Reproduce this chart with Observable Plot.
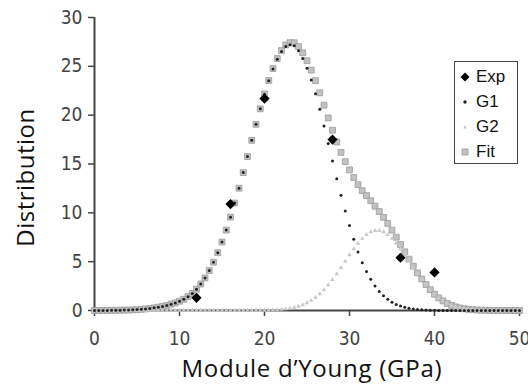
<!DOCTYPE html>
<html><head><meta charset="utf-8">
<script src="https://cdn.jsdelivr.net/npm/d3@7"></script>
<script src="https://cdn.jsdelivr.net/npm/@observablehq/plot@0.6"></script>
<style>
html,body{margin:0;padding:0;background:#fff;}
#wrap{position:relative;width:528px;height:385px;overflow:hidden;background:#fff;}
#wrap svg.plot{position:absolute;left:0;top:0;}
.xt{position:absolute;font-family:"Open Sans";font-size:24px;line-height:27px;color:#111;white-space:nowrap;}
#legend{position:absolute;left:454px;top:61px;width:62px;height:101px;border:1.5px solid #444;background:#fff;font-family:"Liberation Sans";font-size:17px;color:#111;}
#legend .row{position:absolute;left:0;height:20px;line-height:20px;}
#legend svg{position:absolute;left:4px;top:4px;}
#legend span{position:absolute;left:21px;top:0;}
</style>
</head><body><div id="wrap"></div>
<script>
// x grid of sampled curves (GPa)
const xGrid = [
 0,0.5,1,1.5,2,2.5,3,3.5,4,4.5,
 5,5.5,6,6.5,7,7.5,8,8.5,9,9.5,
 10,10.5,11,11.5,12,12.5,13,13.5,14,14.5,
 15,15.5,16,16.5,17,17.5,18,18.5,19,19.5,
 20,20.5,21,21.5,22,22.5,23,23.5,24,24.5,
 25,25.5,26,26.5,27,27.5,28,28.5,29,29.5,
 30,30.5,31,31.5,32,32.5,33,33.5,34,34.5,
 35,35.5,36,36.5,37,37.5,38,38.5,39,39.5,
 40,40.5,41,41.5,42,42.5,43,43.5,44,44.5,
 45,45.5,46,46.5,47,47.5,48,48.5,49,49.5,
 50];
const g1 = [
 0,0,0.01,0.01,0.02,0.02,0.03,0.04,0.05,0.07,
 0.09,0.12,0.16,0.21,0.27,0.34,0.42,0.52,0.65,0.78,
 0.95,1.15,1.42,1.75,2.18,2.71,3.34,4.09,4.94,5.92,
 7.01,8.23,9.56,11.0,12.52,14.12,15.76,17.42,19.06,20.65,
 22.15,23.52,24.72,25.73,26.51,27.04,27.2,27.1,26.6,25.8,
 24.8,23.6,22.2,20.6,18.9,17.1,15.3,13.5,11.8,10.2,
 8.7,7.3,6.0,4.9,4.0,3.2,2.5,1.95,1.5,1.15,
 0.85,0.62,0.45,0.32,0.22,0.15,0.1,0.07,0.05,0.03,
 0.02,0.01,0.01,0,0,0,0,0,0,0,
 0,0,0,0,0,0,0,0,0,0,
 0];
const g2 = [
 0,0,0,0,0,0,0,0,0,0,
 0,0,0,0,0,0,0,0,0,0,
 0,0,0,0,0,0,0,0,0,0,
 0,0,0,0,0,0,0,0,0,0,
 0.02,0.03,0.05,0.07,0.10,0.15,0.22,0.31,0.42,0.58,
 0.78,1.02,1.33,1.69,2.12,2.61,3.16,3.75,4.39,5.04,
 5.69,6.31,6.88,7.37,7.77,8.04,8.18,8.18,8.04,7.77,
 7.37,6.88,6.31,5.69,5.04,4.39,3.75,3.16,2.61,2.10,
 1.65,1.28,0.97,0.72,0.52,0.37,0.26,0.18,0.12,0.08,
 0.05,0.03,0.02,0.01,0.01,0,0,0,0,0,
 0];
const fit = [
 0,0,0.01,0.01,0.02,0.02,0.03,0.04,0.05,0.07,
 0.09,0.12,0.16,0.21,0.27,0.34,0.42,0.52,0.65,0.78,
 0.95,1.15,1.42,1.75,2.18,2.71,3.34,4.09,4.94,5.92,
 7.01,8.23,9.56,11.0,12.52,14.12,15.76,17.42,19.06,20.65,
 22.17,23.55,24.77,25.80,26.61,27.19,27.42,27.41,27.02,26.38,
 25.58,24.62,23.53,22.29,21.02,19.71,18.46,17.25,16.19,15.24,
 14.39,13.61,12.88,12.27,11.77,11.24,10.68,10.13,9.54,8.92,
 8.22,7.50,6.76,6.01,5.26,4.54,3.85,3.23,2.66,2.13,
 1.67,1.29,0.98,0.72,0.52,0.37,0.26,0.18,0.12,0.08,
 0.05,0.03,0.02,0.01,0.01,0,0,0,0,0,
 0];
const expX = [12, 16, 20, 28, 36, 40];
const expY = [1.3, 10.9, 21.7, 17.5, 5.4, 3.9];
const xTicks = [0, 10, 20, 30, 40, 50];
const yTicks = [0, 5, 10, 15, 20, 25, 30];
const seriesNames = ["Exp", "G1", "G2", "Fit"];
const xTitle = "Module d\u2019Young (GPa)";
const yTitle = "Distribution";

const rowsG1 = xGrid.map((x, i) => ({x, y: g1[i]}));
const rowsG2 = xGrid.map((x, i) => ({x, y: g2[i]}));
const rowsFit = xGrid.map((x, i) => ({x, y: fit[i]}));
const rowsExp = expX.map((x, i) => ({x, y: expY[i]}));

const chart = Plot.plot({
  width: 528, height: 385,
  marginLeft: 94, marginRight: 9, marginTop: 17, marginBottom: 75,
  x: {domain: [0, 50]},
  y: {domain: [0, 30]},
  style: {fontFamily: "DejaVu Sans Condensed", fontSize: "19px", color: "#444", background: "transparent", overflow: "visible"},
  marks: [
    Plot.axisX({ticks: xTicks, tickSize: 6, tickPadding: 15, label: null, stroke: "#444", strokeWidth: 1.5, fill: "#444"}),
    Plot.axisY({ticks: yTicks, tickSize: 6, tickPadding: 6, label: null, stroke: "#444", strokeWidth: 1.5, fill: "#444"}),
    Plot.ruleY([0], {stroke: "#444", strokeWidth: 2}),
    Plot.ruleX([0], {stroke: "#444", strokeWidth: 2}),
    Plot.dot(rowsFit, {x: "x", y: "y", symbol: "square", r: 3.3, fill: "#c2c2c2", stroke: "#9a9a9a", strokeWidth: 0.8}),
    Plot.dot(rowsG2, {x: "x", y: "y", symbol: "triangle", r: 1.7, fill: "#c8c8c8", stroke: "none"}),
    Plot.dot(rowsG1, {x: "x", y: "y", r: 1.5, fill: "#222", stroke: "none"}),
    Plot.dot(rowsExp, {x: "x", y: "y", symbol: "diamond2", r: 4.6, fill: "#000", stroke: "none"})
  ]
});
chart.classList.add("plot");
const wrap = document.getElementById("wrap");
wrap.appendChild(chart);

function fitWidth(el, target) {
  const n = el.textContent.length;
  const w0 = el.offsetWidth;
  el.style.letterSpacing = ((target - w0) / n) + "px";
}

// axis titles
const xt = document.createElement("div");
xt.className = "xt";
xt.textContent = xTitle;
wrap.appendChild(xt);
fitWidth(xt, 261);
xt.style.left = (312 - xt.offsetWidth / 2) + "px";
xt.style.top = "354px";

const yt = document.createElement("div");
yt.className = "xt";
yt.textContent = yTitle;
wrap.appendChild(yt);
fitWidth(yt, 139);
const w = yt.offsetWidth, h = yt.offsetHeight;
yt.style.left = (24 - w / 2) + "px";
yt.style.top = (177 - h / 2) + "px";
yt.style.transform = "rotate(-90deg)";

// legend
const lg = document.createElement("div");
lg.id = "legend";
const sym = {
  Exp: '<svg width="12" height="12"><path d="M6,1.5L10.5,6L6,10.5L1.5,6Z" fill="#000"/></svg>',
  G1: '<svg width="12" height="12"><circle cx="6" cy="6" r="1.7" fill="#222"/></svg>',
  G2: '<svg width="12" height="12"><path d="M6,4.2L7.8,7.6L4.2,7.6Z" fill="#c4c4c4"/></svg>',
  Fit: '<svg width="12" height="12"><rect x="3" y="3" width="6" height="6" fill="#c2c2c2" stroke="#9a9a9a" stroke-width="0.8"/></svg>'
};
seriesNames.forEach((n, i) => {
  const r = document.createElement("div");
  r.className = "row";
  r.style.top = (5 + i * 25) + "px";
  r.style.width = "60px";
  r.innerHTML = sym[n] + "<span>" + n + "</span>";
  lg.appendChild(r);
});
wrap.appendChild(lg);
</script>
</body></html>
